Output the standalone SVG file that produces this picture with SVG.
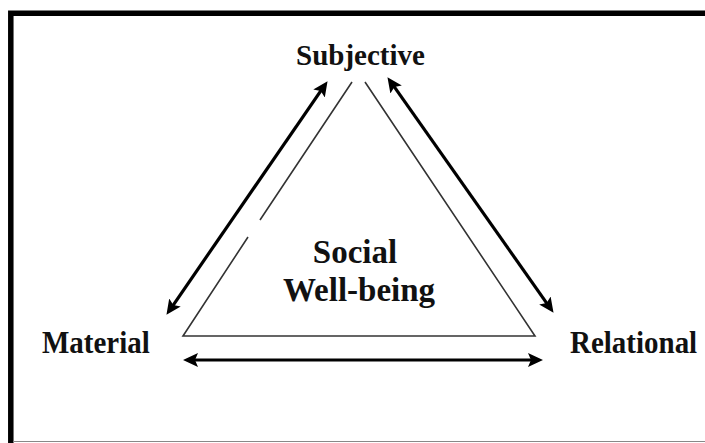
<svg xmlns="http://www.w3.org/2000/svg" width="705" height="443" viewBox="0 0 705 443">
<style>
.lbl{font-family:"Liberation Serif","Times New Roman",serif;font-weight:bold;fill:#111;}
.tri{fill:none;stroke:#333;stroke-width:1.6;}
.arr{fill:none;stroke:#000;stroke-width:3.2;marker-start:url(#ah);marker-end:url(#ah);}
</style>
<defs>
<marker id="ah" markerUnits="userSpaceOnUse" markerWidth="16" markerHeight="14" viewBox="0 0 16 14" refX="4" refY="7" orient="auto-start-reverse">
<path d="M0,0 L15,7 L0,14 L3,7 z" fill="#000"/>
</marker>
</defs>
<rect width="705" height="443" fill="#fff"/>
<g id="frame">
<path d="M10.8,443 V13.3 H705" fill="none" stroke="#000" stroke-width="5.5"/>
<line x1="13" y1="441.5" x2="705" y2="441.5" stroke="#888" stroke-width="1"/>
</g>
<g id="triangle">
<path class="tri" d="M352,82 L260,220 M248,237 L183,336 L535,336 L365,82"/>
</g>
<g id="connectors">
<line class="arr" x1="321.3" y1="90.2" x2="172.7" y2="305.8"/>
<line class="arr" x1="393.8" y1="86.2" x2="547.2" y2="303.8"/>
<line class="arr" x1="194" y1="360" x2="532" y2="360"/>
</g>
<g id="subjective"><text class="lbl" font-size="29" text-anchor="middle" transform="translate(360.5,65) scale(1,1.05)">Subjective</text></g>
<g id="material"><text class="lbl" font-size="29" transform="translate(42,353) scale(1,1.12)">Material</text></g>
<g id="relational"><text class="lbl" font-size="29" transform="translate(570,353) scale(1,1.12)">Relational</text></g>
<g id="center"><text class="lbl" font-size="33" text-anchor="middle"><tspan x="355" y="263">Social</tspan><tspan x="359" y="301">Well-being</tspan></text></g>
</svg>
